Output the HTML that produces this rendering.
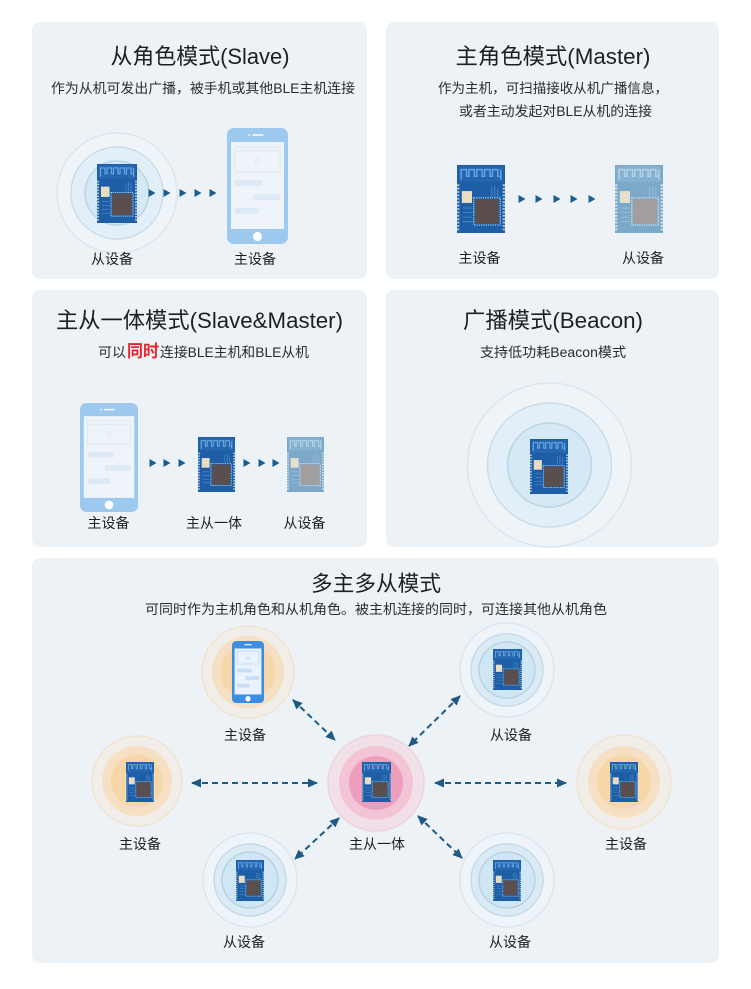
<!DOCTYPE html>
<html>
<head>
<meta charset="utf-8">
<style>
  html,body{margin:0;padding:0;background:#ffffff;}
  body{width:751px;height:989px;overflow:hidden;}
  svg{display:block;}
  text{font-family:"Liberation Sans","Noto Sans CJK SC",sans-serif;}
  .t{font-size:22px;fill:#1f1f1f;}
  .s{font-size:13.5px;fill:#2b2b2b;}
  .l{font-size:14px;fill:#1f1f1f;}
</style>
</head>
<body>
<svg width="751" height="989" viewBox="0 0 751 989" xmlns="http://www.w3.org/2000/svg">
  <defs>
    <symbol id="chip" viewBox="0 0 40 60" preserveAspectRatio="none">
      <rect x="0" y="0" width="40" height="60" fill="#1d5ea7"/>
      <rect x="1.5" y="1" width="37" height="14" fill="#2466b0"/>
      <path d="M3.5 13 V4 H8 V10 H10 V4 H14.5 V10 H16.5 V4 H21 V10 H23 V4 H27.5 V10 H29.5 V4 H34 V10 H36.5 V4 V13" fill="none" stroke="#6aa6e0" stroke-width="1.2"/>
      <line x1="1" y1="17" x2="1" y2="59" stroke="#a9c7df" stroke-width="2" stroke-dasharray="1.6 1.4"/>
      <line x1="39" y1="17" x2="39" y2="59" stroke="#a9c7df" stroke-width="2" stroke-dasharray="1.6 1.4"/>
      <rect x="4" y="23" width="8.5" height="10.5" fill="#e8dcc2"/>
      <path d="M29 28 V19 M31.5 28 V18 M34 28 V20 M5 38 H12 M5 42 H13 M5 46 H12 M5 50 H13" stroke="#4f8cc6" stroke-width="0.7" fill="none"/>
      <rect x="15" y="30" width="20" height="22" fill="#5a4e4f"/>
      <rect x="14" y="29" width="22" height="24" fill="none" stroke="#a8d6f4" stroke-width="1" stroke-dasharray="1 0.9"/>
    </symbol>
    <symbol id="chipl" viewBox="0 0 40 60" preserveAspectRatio="none">
      <rect x="0" y="0" width="40" height="60" fill="#7ca8c9"/>
      <rect x="1.5" y="1" width="37" height="14" fill="#86b0d0"/>
      <path d="M3.5 13 V4 H8 V10 H10 V4 H14.5 V10 H16.5 V4 H21 V10 H23 V4 H27.5 V10 H29.5 V4 H34 V10 H36.5 V4 V13" fill="none" stroke="#b3d3ec" stroke-width="1.2"/>
      <line x1="1" y1="17" x2="1" y2="59" stroke="#d0e0ec" stroke-width="2" stroke-dasharray="1.6 1.4"/>
      <line x1="39" y1="17" x2="39" y2="59" stroke="#d0e0ec" stroke-width="2" stroke-dasharray="1.6 1.4"/>
      <rect x="4" y="23" width="8.5" height="10.5" fill="#e6e0cf"/>
      <path d="M29 28 V19 M31.5 28 V18 M34 28 V20 M5 38 H12 M5 42 H13 M5 46 H12 M5 50 H13" stroke="#9fc1dc" stroke-width="0.7" fill="none"/>
      <rect x="15" y="30" width="20" height="22" fill="#a29e9e"/>
      <rect x="14" y="29" width="22" height="24" fill="none" stroke="#d8ecf8" stroke-width="1" stroke-dasharray="1 0.9"/>
    </symbol>
    <symbol id="phone" viewBox="0 0 62 116" preserveAspectRatio="none">
      <rect x="0" y="0" width="62" height="116" rx="7" fill="#9dc9ee"/>
      <line x1="26" y1="7" x2="37" y2="7" stroke="#ffffff" stroke-width="1.5"/>
      <circle cx="22.5" cy="7" r="0.9" fill="#ffffff"/>
      <rect x="4" y="14" width="54" height="87" fill="#eef4fa"/>
      <rect x="8" y="19" width="46" height="25" fill="none" stroke="#dbe8f3" stroke-width="1"/>
      <line x1="8" y1="23" x2="54" y2="23" stroke="#dbe8f3" stroke-width="1"/>
      <circle cx="31" cy="33" r="2.3" fill="none" stroke="#dbe8f3" stroke-width="1"/>
      <rect x="8" y="52" width="28" height="6" fill="#dde9f4"/>
      <rect x="27" y="66" width="27" height="6" fill="#dde9f4"/>
      <rect x="8" y="80" width="24" height="6" fill="#dde9f4"/>
      <circle cx="31" cy="108.5" r="4.6" fill="#ffffff"/>
    </symbol>
    <symbol id="phoneb" viewBox="0 0 62 116" preserveAspectRatio="none">
      <rect x="0" y="0" width="62" height="116" rx="8" fill="#3d8ee3"/>
      <line x1="24" y1="7" x2="38" y2="7" stroke="#ffffff" stroke-width="2"/>
      <rect x="5" y="14" width="52" height="86" fill="#eaf3fd"/>
      <rect x="10" y="19" width="42" height="24" fill="none" stroke="#bcd8f3" stroke-width="1.5"/>
      <circle cx="31" cy="33" r="2.5" fill="none" stroke="#bcd8f3" stroke-width="1.5"/>
      <rect x="10" y="52" width="28" height="7" fill="#c6def5"/>
      <rect x="26" y="66" width="26" height="7" fill="#c6def5"/>
      <rect x="10" y="80" width="24" height="7" fill="#c6def5"/>
      <circle cx="31" cy="108" r="5" fill="#ffffff"/>
    </symbol>
    <marker id="ah" viewBox="0 0 10 10" refX="9" refY="5" markerWidth="10" markerHeight="10" markerUnits="userSpaceOnUse" orient="auto-start-reverse">
      <path d="M0,0.5 L10,5 L0,9.5 z" fill="#1f5a85"/>
    </marker>
  </defs>

  <!-- Panels -->
  <rect x="32" y="22" width="335" height="257" rx="8" fill="#edf2f6"/>
  <rect x="386" y="22" width="333" height="257" rx="8" fill="#edf2f6"/>
  <rect x="32" y="290" width="335" height="257" rx="8" fill="#edf2f6"/>
  <rect x="386" y="290" width="333" height="257" rx="8" fill="#edf2f6"/>
  <rect x="32" y="558" width="687" height="405" rx="8" fill="#edf2f6"/>

  <!-- Panel 1 -->
  <text class="t" x="200" y="64" text-anchor="middle" textLength="179" lengthAdjust="spacingAndGlyphs">从角色模式(Slave)</text>
  <text class="s" x="203" y="93" text-anchor="middle" textLength="304" lengthAdjust="spacingAndGlyphs">作为从机可发出广播，被手机或其他BLE主机连接</text>
  <circle cx="117" cy="193" r="60" fill="#eef4f8" stroke="#dbe6ee" stroke-width="1.5"/>
  <circle cx="117" cy="193" r="46" fill="#e3eff8" stroke="#cbdde9" stroke-width="1.5"/>
  <circle cx="117" cy="193" r="32" fill="#d4e8f5" stroke="#bdd4e3" stroke-width="1.5"/>
  <use href="#chip" x="97" y="164" width="40" height="59"/>
  <g fill="#1a5f8e">
    <polygon points="148.5,189 155.5,193 148.5,197"/>
    <polygon points="163.5,189 170.5,193 163.5,197"/>
    <polygon points="179.5,189 186.5,193 179.5,197"/>
    <polygon points="194.5,189 201.5,193 194.5,197"/>
    <polygon points="209.5,189 216.5,193 209.5,197"/>
  </g>
  <use href="#phone" x="227" y="128" width="61" height="116"/>
  <text class="l" x="112" y="264" text-anchor="middle">从设备</text>
  <text class="l" x="255" y="264" text-anchor="middle">主设备</text>

  <!-- Panel 2 -->
  <text class="t" x="553" y="64" text-anchor="middle" textLength="195" lengthAdjust="spacingAndGlyphs">主角色模式(Master)</text>
  <text class="s" x="553" y="93" text-anchor="middle" textLength="230" lengthAdjust="spacingAndGlyphs">作为主机，可扫描接收从机广播信息，</text>
  <text class="s" x="555.5" y="116" text-anchor="middle" textLength="193" lengthAdjust="spacingAndGlyphs">或者主动发起对BLE从机的连接</text>
  <use href="#chip" x="457" y="165" width="48" height="68"/>
  <g fill="#1a5f8e">
    <polygon points="518.5,195 525.5,199 518.5,203"/>
    <polygon points="535.5,195 542.5,199 535.5,203"/>
    <polygon points="553.5,195 560.5,199 553.5,203"/>
    <polygon points="570.5,195 577.5,199 570.5,203"/>
    <polygon points="588.5,195 595.5,199 588.5,203"/>
  </g>
  <use href="#chipl" x="615" y="165" width="48" height="68"/>
  <text class="l" x="479.5" y="263" text-anchor="middle">主设备</text>
  <text class="l" x="643" y="263" text-anchor="middle">从设备</text>

  <!-- Panel 3 -->
  <text class="t" x="199.5" y="328" text-anchor="middle" textLength="287" lengthAdjust="spacingAndGlyphs">主从一体模式(Slave&amp;Master)</text>
  <text class="s" x="98" y="357" font-size="14" textLength="28" lengthAdjust="spacingAndGlyphs">可以</text>
  <text x="127" y="357" font-size="17" font-weight="bold" fill="#e8232a" textLength="32" lengthAdjust="spacingAndGlyphs">同时</text>
  <text class="s" x="160" y="357" font-size="14" textLength="149" lengthAdjust="spacingAndGlyphs">连接BLE主机和BLE从机</text>
  <use href="#phone" x="80" y="403" width="58" height="109"/>
  <g fill="#1a5f8e">
    <polygon points="149.5,459 156.5,463 149.5,467"/>
    <polygon points="163.5,459 170.5,463 163.5,467"/>
    <polygon points="178.5,459 185.5,463 178.5,467"/>
    <polygon points="243.5,459 250.5,463 243.5,467"/>
    <polygon points="258.5,459 265.5,463 258.5,467"/>
    <polygon points="272.5,459 279.5,463 272.5,467"/>
  </g>
  <use href="#chip" x="198" y="437" width="37" height="55"/>
  <use href="#chipl" x="287" y="437" width="37" height="55"/>
  <text class="l" x="108.5" y="528" text-anchor="middle">主设备</text>
  <text class="l" x="214" y="528" text-anchor="middle">主从一体</text>
  <text class="l" x="304.5" y="528" text-anchor="middle">从设备</text>

  <!-- Panel 4 -->
  <text class="t" x="553" y="328" text-anchor="middle" textLength="180" lengthAdjust="spacingAndGlyphs">广播模式(Beacon)</text>
  <text class="s" x="553" y="357" text-anchor="middle" textLength="146" lengthAdjust="spacingAndGlyphs">支持低功耗Beacon模式</text>
  <circle cx="549.5" cy="465" r="82" fill="#eef4f8" stroke="#dbe6ee" stroke-width="1.5"/>
  <circle cx="549.5" cy="465" r="62" fill="#e3eff8" stroke="#cbdde9" stroke-width="1.5"/>
  <circle cx="549.5" cy="465" r="42" fill="#d4e8f5" stroke="#bdd4e3" stroke-width="1.5"/>
  <use href="#chip" x="530" y="439" width="38" height="55"/>

  <!-- Panel 5 -->
  <text x="376" y="591" text-anchor="middle" font-size="21.5" fill="#1f1f1f" textLength="130" lengthAdjust="spacingAndGlyphs">多主多从模式</text>
  <text class="s" x="376" y="614" text-anchor="middle" textLength="462" lengthAdjust="spacingAndGlyphs">可同时作为主机角色和从机角色。被主机连接的同时，可连接其他从机角色</text>

  <!-- dashed arrows -->
  <g stroke="#1f5a85" stroke-width="2" stroke-dasharray="6 4" fill="none" marker-start="url(#ah)" marker-end="url(#ah)">
    <line x1="293" y1="700" x2="335" y2="740"/>
    <line x1="460" y1="696" x2="409" y2="746"/>
    <line x1="192" y1="783" x2="317" y2="783"/>
    <line x1="435" y1="783" x2="566" y2="783"/>
    <line x1="339" y1="818" x2="295" y2="859"/>
    <line x1="418" y1="816" x2="462" y2="858"/>
  </g>

  <!-- TL phone node (orange) -->
  <circle cx="248" cy="672" r="46" fill="#f1eee9" stroke="#f1e3d2" stroke-width="1.5"/>
  <circle cx="248" cy="672" r="36" fill="#f6dfc2"/>
  <circle cx="248" cy="672" r="27" fill="#f7d6a7"/>
  <use href="#phoneb" x="232" y="641" width="32" height="62"/>
  <text class="l" x="245" y="740" text-anchor="middle">主设备</text>

  <!-- TR slave -->
  <circle cx="507" cy="670" r="47" fill="#eef4f8" stroke="#dbe6ee" stroke-width="1.5"/>
  <circle cx="507" cy="670" r="36" fill="#dbebf6" stroke="#c7dbe8" stroke-width="1.5"/>
  <circle cx="507" cy="670" r="28" fill="#cfe6f5" stroke="#bbd2e1" stroke-width="1.5"/>
  <use href="#chip" x="493" y="649" width="29" height="41"/>
  <text class="l" x="511" y="740" text-anchor="middle">从设备</text>

  <!-- L master (orange) -->
  <circle cx="137" cy="781" r="45" fill="#f1eee9" stroke="#f1e3d2" stroke-width="1.5"/>
  <circle cx="137" cy="781" r="35" fill="#f6dfc2"/>
  <circle cx="137" cy="781" r="26" fill="#f7d6a7"/>
  <use href="#chip" x="126" y="762" width="28" height="40"/>
  <text class="l" x="140" y="849" text-anchor="middle">主设备</text>

  <!-- Center (pink) -->
  <circle cx="376" cy="783" r="48" fill="#f2e0e9" stroke="#efd3df" stroke-width="1.5"/>
  <circle cx="376" cy="783" r="37" fill="#f2c4d5"/>
  <circle cx="376" cy="783" r="27" fill="#ee9ebd"/>
  <use href="#chip" x="362" y="762" width="29" height="40"/>
  <text class="l" x="377" y="849" text-anchor="middle">主从一体</text>

  <!-- R master (orange) -->
  <circle cx="624" cy="782" r="47" fill="#f1eee9" stroke="#f1e3d2" stroke-width="1.5"/>
  <circle cx="624" cy="782" r="36" fill="#f6dfc2"/>
  <circle cx="624" cy="782" r="27" fill="#f7d6a7"/>
  <use href="#chip" x="610" y="762" width="28" height="40"/>
  <text class="l" x="626" y="849" text-anchor="middle">主设备</text>

  <!-- BL slave -->
  <circle cx="250" cy="880" r="47" fill="#eef4f8" stroke="#dbe6ee" stroke-width="1.5"/>
  <circle cx="250" cy="880" r="36" fill="#dbebf6" stroke="#c7dbe8" stroke-width="1.5"/>
  <circle cx="250" cy="880" r="28" fill="#cfe6f5" stroke="#bbd2e1" stroke-width="1.5"/>
  <use href="#chip" x="236" y="860" width="28" height="41"/>
  <text class="l" x="244" y="947" text-anchor="middle">从设备</text>

  <!-- BR slave -->
  <circle cx="507" cy="880" r="47" fill="#eef4f8" stroke="#dbe6ee" stroke-width="1.5"/>
  <circle cx="507" cy="880" r="36" fill="#dbebf6" stroke="#c7dbe8" stroke-width="1.5"/>
  <circle cx="507" cy="880" r="28" fill="#cfe6f5" stroke="#bbd2e1" stroke-width="1.5"/>
  <use href="#chip" x="493" y="860" width="28" height="41"/>
  <text class="l" x="510" y="947" text-anchor="middle">从设备</text>
</svg>
</body>
</html>
